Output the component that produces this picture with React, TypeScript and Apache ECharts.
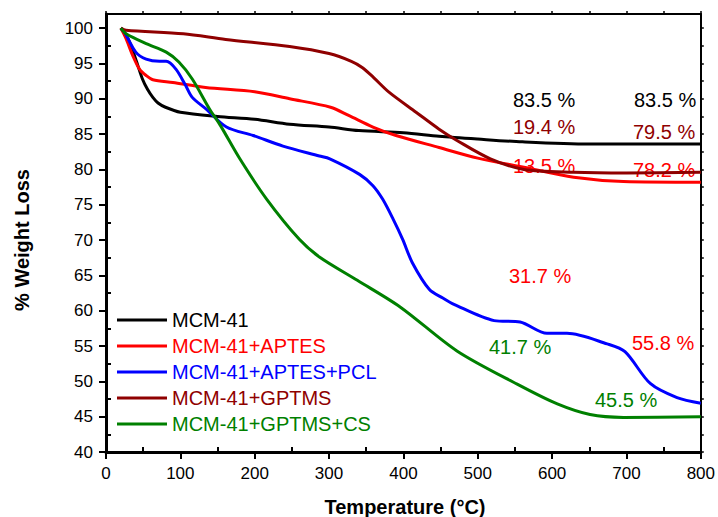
import React, { useEffect, useRef } from "react";
import * as echarts from "echarts";

const FONT = "Liberation Sans, Arial, Helvetica, sans-serif";

const seriesNames = ["MCM-41", "MCM-41+APTES", "MCM-41+APTES+PCL", "MCM-41+GPTMS", "MCM-41+GPTMS+CS"];
const seriesColors = ["#000000", "#ff0000", "#0000ff", "#8f0000", "#008000"];

const mcmX = [20, 30, 40, 49, 56, 63, 70, 80, 100, 150, 200, 247, 300, 340, 400, 448, 500, 560, 650, 700, 800];
const mcmY = [100, 98.4, 95.6, 92.8, 91.3, 90.2, 89.4, 88.8, 88.1, 87.5, 87.1, 86.4, 86, 85.5, 85.2, 84.7, 84.3, 83.9, 83.6, 83.6, 83.6];

const aptesX = [20, 27, 36, 45, 54, 63, 90, 134, 200, 247, 302, 327, 359, 390, 448, 500, 562, 629, 696, 800];
const aptesY = [100, 98.5, 96.1, 94.2, 93.3, 92.7, 92.3, 91.6, 91, 90, 88.8, 87.6, 86, 84.8, 83.1, 81.6, 80.3, 78.9, 78.3, 78.2];

const pclX = [20, 25, 40, 54, 72, 81, 94, 107, 116, 134, 162, 198, 238, 287, 301, 341, 359, 372, 386, 399, 412, 435, 453, 468, 522, 557, 593, 620, 674, 698, 732, 768, 800];
const pclY = [100, 99.4, 96.6, 95.6, 95.3, 95.3, 94.2, 91.9, 90.2, 88.6, 86, 84.8, 83.3, 81.9, 81.5, 79.3, 77.7, 75.8, 73, 70.1, 66.8, 63, 61.8, 60.9, 58.6, 58.4, 56.8, 56.8, 55.3, 54.2, 49.7, 47.7, 46.9];

const gptmsX = [20, 27, 104, 161, 247, 300, 330, 345, 360, 381, 417, 448, 472, 517, 562, 629, 700, 800];
const gptmsY = [100, 99.7, 99.2, 98.4, 97.4, 96.4, 95.3, 94.4, 93.0, 90.9, 88.1, 85.7, 84.1, 81.5, 80, 79.6, 79.5, 79.6];

const csX = [20, 27, 54, 81, 98, 116, 139, 154, 180, 216, 260, 287, 338, 396, 472, 553, 607, 651, 696, 800];
const csY = [100, 99.2, 97.8, 96.6, 95.2, 92.8, 88.6, 86.2, 81.5, 75.8, 70.1, 67.6, 64.3, 60.5, 54.3, 49.6, 46.8, 45.3, 44.9, 45];

const xMajor = [0, 100, 200, 300, 400, 500, 600, 700, 800];
const xMinor = [50, 150, 250, 350, 450, 550, 650, 750];
const yMajor = [40, 45, 50, 55, 60, 65, 70, 75, 80, 85, 90, 95, 100];
const yMinor = [42.5, 47.5, 52.5, 57.5, 62.5, 67.5, 72.5, 77.5, 82.5, 87.5, 92.5, 97.5];

const annotationTexts = ["83.5 %", "83.5 %", "19.4 %", "79.5 %", "13.5 %", "78.2 %", "31.7 %", "55.8 %", "41.7 %", "45.5 %"];
const annotationColors = ["#000000", "#000000", "#8f0000", "#8f0000", "#ff0000", "#ff0000", "#ff0000", "#ff0000", "#008000", "#008000"];
const annotationPos = [
  [513, 100], [634, 100], [513, 127], [633, 132], [513, 166], [633, 170],
  [509, 276], [632, 343], [489, 347], [595, 400],
];

const seriesX = [mcmX, aptesX, pclX, gptmsX, csX];
const seriesY = [mcmY, aptesY, pclY, gptmsY, csY];

export default function App() {
  const ref = useRef<HTMLDivElement>(null);
  useEffect(() => {
    if (!ref.current) return;
    const chart = echarts.init(ref.current, null, { renderer: "svg" });
    const yAll = [...yMajor, ...yMinor].sort((a, b) => a - b);
    const xAll = [...xMajor, ...xMinor].sort((a, b) => a - b);
    const option: any = {
      animation: false,
      backgroundColor: "#ffffff",
      textStyle: { fontFamily: FONT },
      grid: { left: 106, top: 14, right: 16, bottom: 65, containLabel: false },
      xAxis: [
        {
          type: "value", min: 0, max: 800, interval: 100, position: "bottom",
          axisLine: { show: true, onZero: false, lineStyle: { color: "#000", width: 3 } },
          axisTick: { show: true, length: 7, customValues: xMajor, lineStyle: { color: "#000", width: 2 } },
          axisLabel: { show: true, customValues: xMajor, fontSize: 17, color: "#000", margin: 13, fontFamily: FONT },
          splitLine: { show: false },
        },
        {
          type: "value", min: 0, max: 800, position: "top",
          axisLine: { show: true, onZero: false, lineStyle: { color: "#000", width: 2 } },
          axisTick: { show: true, length: 3, customValues: xAll, lineStyle: { color: "#000", width: 1.5 } },
          axisLabel: { show: false }, splitLine: { show: false },
        },
        {
          type: "value", min: 0, max: 800, position: "bottom",
          axisLine: { show: false },
          axisTick: { show: true, inside: true, length: 5, customValues: xMinor, lineStyle: { color: "#000", width: 2 } },
          axisLabel: { show: false }, splitLine: { show: false },
        },
      ],
      yAxis: [
        {
          type: "value", min: 40, max: 102, interval: 5, position: "left",
          axisLine: { show: true, onZero: false, lineStyle: { color: "#000", width: 3 } },
          axisTick: { show: true, length: 7, customValues: yMajor, lineStyle: { color: "#000", width: 2 } },
          axisLabel: { show: true, customValues: yMajor, fontSize: 17, color: "#000", margin: 13, fontFamily: FONT },
          splitLine: { show: false },
        },
        {
          type: "value", min: 40, max: 102, position: "right",
          axisLine: { show: true, onZero: false, lineStyle: { color: "#000", width: 2 } },
          axisTick: { show: true, length: 3, customValues: yAll, lineStyle: { color: "#000", width: 1.5 } },
          axisLabel: { show: false }, splitLine: { show: false },
        },
        {
          type: "value", min: 40, max: 102, position: "left",
          axisLine: { show: false },
          axisTick: { show: true, inside: true, length: 5, customValues: yMinor, lineStyle: { color: "#000", width: 2 } },
          axisLabel: { show: false }, splitLine: { show: false },
        },
      ],
      legend: {
        orient: "vertical", left: 112, top: 305, itemWidth: 50, itemHeight: 3, itemGap: 6,
        icon: "rect",
        textStyle: { fontSize: 20, fontFamily: FONT, padding: [0, 0, 0, 0] },
        data: seriesNames.map((n, i) => ({ name: n, textStyle: { color: seriesColors[i] } })),
      },
      series: seriesNames.map((n, i) => ({
        name: n, type: "line", xAxisIndex: 0, yAxisIndex: 0,
        data: seriesX[i].map((x, j) => [x, seriesY[i][j]]),
        symbol: "none", smooth: 0.3,
        lineStyle: { color: seriesColors[i], width: 3 },
        itemStyle: { color: seriesColors[i] },
      })),
      graphic: [
        ...annotationTexts.map((t, i) => ({
          type: "text", x: annotationPos[i][0], y: annotationPos[i][1], silent: true,
          style: { text: t, fill: annotationColors[i], font: `20px ${FONT}`, verticalAlign: "middle", align: "left" },
        })),
        {
          type: "text", x: 22, y: 240, rotation: Math.PI / 2,
          style: { text: "% Weight Loss", fill: "#000", font: `bold 20px ${FONT}`, align: "center", verticalAlign: "middle" },
        },
        {
          type: "text", x: 405, y: 507,
          style: { text: "Temperature (°C)", fill: "#000", font: `bold 20px ${FONT}`, align: "center", verticalAlign: "middle" },
        },
      ],
    };
    chart.setOption(option);
    return () => chart.dispose();
  }, []);
  return <div ref={ref} style={{ position: "fixed", left: 0, top: 0, width: 718, height: 517 }} />;
}
